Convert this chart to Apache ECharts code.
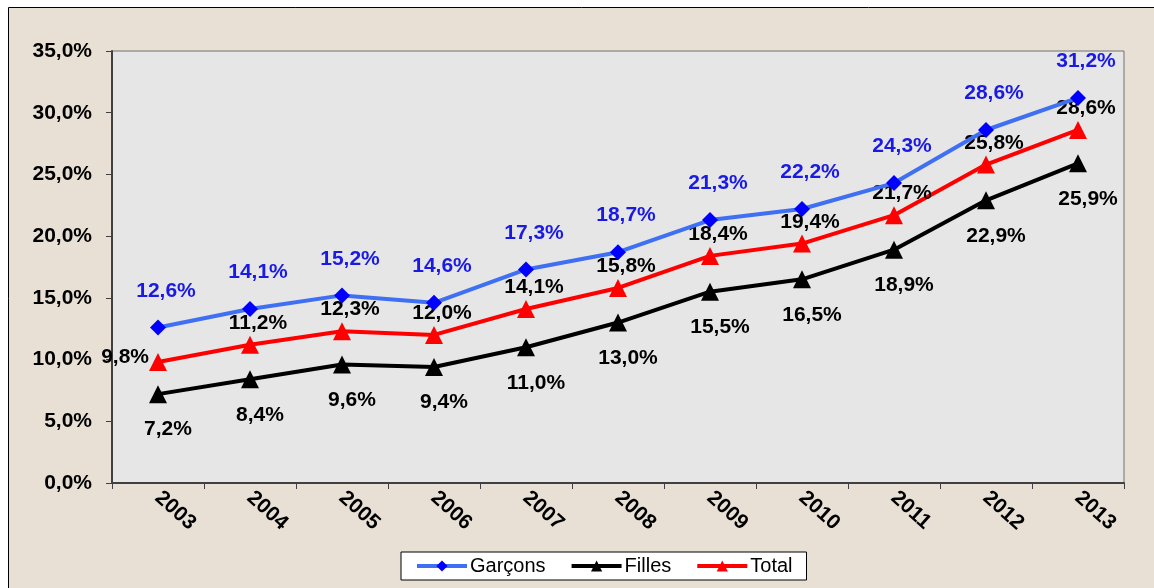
<!DOCTYPE html>
<html>
<head>
<meta charset="utf-8">
<script src="https://cdn.jsdelivr.net/npm/echarts@6/dist/echarts.min.js"></script>
<style>
  html, body { margin: 0; padding: 0; background: #fff; }
  #chart { width: 1154px; height: 588px; }
</style>
</head>
<body>
<div id="chart"></div>
<script>
const years = ['2003', '2004', '2005', '2006', '2007', '2008', '2009', '2010', '2011', '2012', '2013'];
const garcons = [12.6, 14.1, 15.2, 14.6, 17.3, 18.7, 21.3, 22.2, 24.3, 28.6, 31.2];
const filles = [7.2, 8.4, 9.6, 9.4, 11.0, 13.0, 15.5, 16.5, 18.9, 22.9, 25.9];
const total = [9.8, 11.2, 12.3, 12.0, 14.1, 15.8, 18.4, 19.4, 21.7, 25.8, 28.6];

const pct = v => v.toFixed(1).replace('.', ',') + '%';
const font = 'Liberation Sans, Arial, sans-serif';

const chart = echarts.init(document.getElementById('chart'), null, { renderer: 'canvas' });

function labelStyle(color) {
  return {
    show: true,
    color: color,
    fontFamily: font,
    fontWeight: 'bold',
    fontSize: 21,
    formatter: p => pct(p.value)
  };
}

// first total label sits left of its point, like in the original
const totalData = total.map((v, i) => i === 0 ? { value: v, label: { position: 'left', distance: 0, offset: [0, -5] } } : v);

chart.setOption({
  backgroundColor: '#ffffff',
  animation: false,
  graphic: [{
    type: 'rect',
    z: -10,
    shape: { x: 8.5, y: 7.5, width: 1160, height: 600 },
    style: { fill: '#e8e0d5', stroke: '#000', lineWidth: 1 }
  }],
  grid: {
    left: 112, right: 30, top: 51, bottom: 105,
    show: true,
    backgroundColor: '#e6e6e6',
    borderColor: '#707070',
    borderWidth: 1
  },
  legend: {
    bottom: 8,
    left: 401,
    itemWidth: 50,
    itemHeight: 14,
    itemGap: 24,
    padding: [4, 14],
    backgroundColor: '#ffffff',
    borderColor: '#000',
    borderWidth: 1,
    borderRadius: 0,
    lineStyle: { width: 4 },
    textStyle: { fontFamily: font, fontSize: 20, color: '#000', padding: [0, 0, 0, -2] },
    data: ['Garçons', 'Filles', 'Total']
  },
  xAxis: {
    type: 'category',
    data: years,
    boundaryGap: true,
    axisLine: { lineStyle: { color: '#404040', width: 2 } },
    axisTick: { show: true, inside: false, length: 6, lineStyle: { color: '#404040' } },
    axisLabel: {
      rotate: -42,
      margin: 12,
      color: '#000',
      fontFamily: font,
      fontWeight: 'bold',
      fontSize: 21
    },
    splitLine: { show: false }
  },
  yAxis: {
    type: 'value',
    min: 0,
    max: 35,
    interval: 5,
    axisLine: { show: true, lineStyle: { color: '#404040', width: 2 } },
    axisTick: { show: true, inside: false, length: 6, lineStyle: { color: '#404040' } },
    axisLabel: {
      margin: 20,
      color: '#000',
      fontFamily: font,
      fontWeight: 'bold',
      fontSize: 21,
      formatter: v => pct(v)
    },
    splitLine: { show: false }
  },
  series: [
    {
      name: 'Garçons',
      type: 'line',
      data: garcons,
      symbol: 'diamond',
      symbolSize: 16,
      itemStyle: { color: '#0000ff' },
      lineStyle: { color: '#3f6ff2', width: 4 },
      label: Object.assign(labelStyle('#1a1ae6'), { position: 'top', distance: 18, offset: [8, 0] }),
      z: 3
    },
    {
      name: 'Filles',
      type: 'line',
      data: filles,
      symbol: 'triangle',
      symbolSize: 18,
      itemStyle: { color: '#000000' },
      lineStyle: { color: '#000000', width: 4 },
      label: Object.assign(labelStyle('#000'), { position: 'bottom', distance: 16, offset: [10, 0] }),
      z: 2
    },
    {
      name: 'Total',
      type: 'line',
      data: totalData,
      symbol: 'triangle',
      symbolSize: 18,
      itemStyle: { color: '#ff0000' },
      lineStyle: { color: '#ff0000', width: 4 },
      label: Object.assign(labelStyle('#000'), { position: 'top', distance: 2, offset: [8, 0] }),
      z: 2
    }
  ]
});
</script>
</body>
</html>
